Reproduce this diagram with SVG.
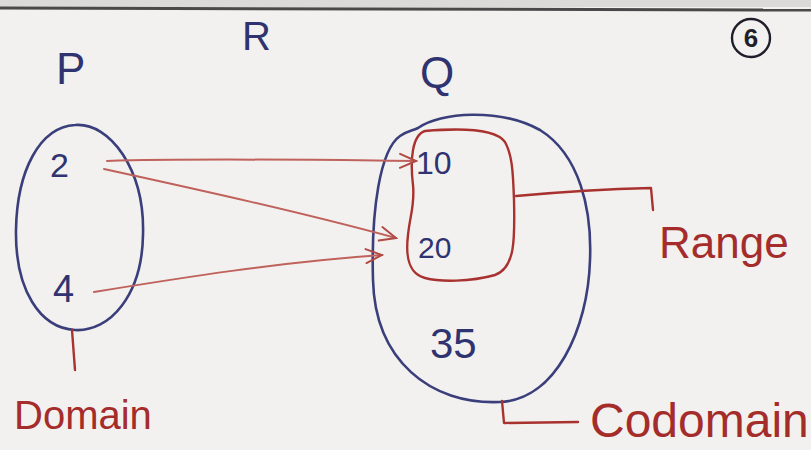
<svg xmlns="http://www.w3.org/2000/svg" width="811" height="450" viewBox="0 0 811 450">
<style>
.bg{fill:#f3f1ef}
.blue{fill:none;stroke:#3a3f7c;stroke-width:2.6;stroke-linecap:round;stroke-linejoin:round}
.red{fill:none;stroke:#a8322f;stroke-width:2.4;stroke-linecap:round;stroke-linejoin:round}
.arrow{fill:none;stroke:#c0625c;stroke-width:2;stroke-linecap:round}
.tb{font-family:"Liberation Sans",Arial,sans-serif;fill:#2f3470}
.tr{font-family:"Liberation Sans",Arial,sans-serif;fill:#a42d2b}
</style>
<defs>
<marker id="ah" viewBox="0 0 20 20" refX="18" refY="10" markerWidth="20" markerHeight="20" markerUnits="userSpaceOnUse" orient="auto">
<path d="M2,3 L18,10 L2,17" fill="none" stroke="#b04a45" stroke-width="2" stroke-linecap="round"/>
</marker>
</defs>
<rect class="bg" x="0" y="0" width="811" height="450"/>
<rect x="0" y="0" width="811" height="7" fill="#dcdad8"/>
<path d="M0,8 L811,10" stroke="#4a4848" stroke-width="3" fill="none"/>

<g id="labels">
<text class="tb" x="56" y="84" font-size="44">P</text>
<text class="tb" x="242" y="50" font-size="40">R</text>
<text class="tb" x="420" y="88" font-size="44">Q</text>
<g id="page-number">
<circle cx="751" cy="38" r="19" fill="none" stroke="#1f1f2a" stroke-width="2.4"/>
<text x="751" y="47" font-size="26" text-anchor="middle" font-family="Liberation Sans,Arial,sans-serif" font-weight="bold" fill="#1f1f2a">6</text>
</g>
</g>

<g id="setP">
<path class="blue" d="M75,125 C110,122 145,170 143,235 C142,295 110,332 75,330 C40,328 15,290 16,230 C17,170 40,127 75,125 Z"/>
<text class="tb" x="50" y="177" font-size="34">2</text>
<text class="tb" x="53" y="302" font-size="38">4</text>
</g>

<g id="setQ">
<path class="blue" d="M418,128 C440,112 500,108 540,130 C580,155 592,210 590,260 C588,330 555,400 500,402 C430,405 375,360 373,280 C371,210 380,150 400,136 C407,131 412,131 418,128 Z"/>
<text class="tb" x="430" y="358" font-size="42">35</text>
</g>

<g id="range">
<path class="red" d="M425,131 C460,128 495,128 505,142 C512,155 513,170 514,200 C515,240 515,268 495,275 C470,282 440,282 425,278 C410,274 405,260 408,235 C410,215 415,205 413,185 C410,160 412,135 425,131 Z"/>
<text class="tb" x="416" y="174" font-size="32">10</text>
<text class="tb" x="418" y="258" font-size="30">20</text>
</g>

<g id="connectors">
<path class="arrow" d="M107,161 C200,158 320,160 416,161" marker-end="url(#ah)"/>
<path class="arrow" d="M104,169 C200,190 300,212 396,238" marker-end="url(#ah)"/>
<path class="arrow" d="M94,292 C180,278 280,262 382,255" marker-end="url(#ah)"/>
<path class="red" d="M72,330 L75,370"/>
<path class="red" d="M516,196 C560,192 610,189 651,188 L653,210"/>
<path class="red" d="M502,401 L504,423 L578,422"/>
</g>

<g id="annotations">
<text class="tr" x="14" y="429" font-size="40">Domain</text>
<text class="tr" x="659" y="258" font-size="44">Range</text>
<text class="tr" x="590" y="437" font-size="48">Codomain</text>
</g>
</svg>
